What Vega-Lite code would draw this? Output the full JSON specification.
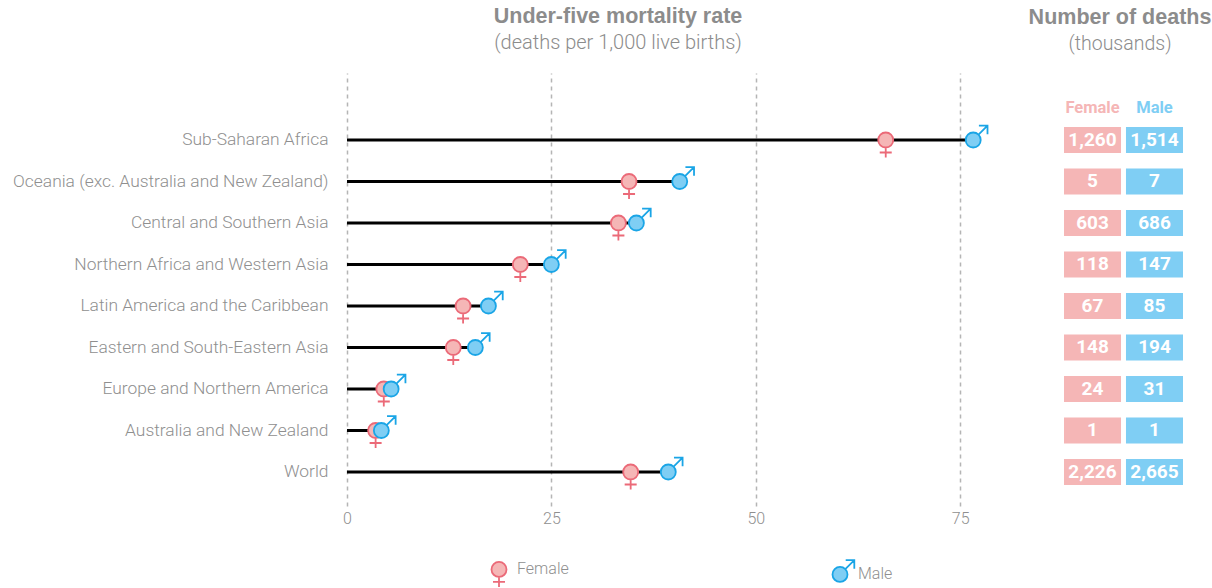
{
"$schema":"https://vega.github.io/schema/vega-lite/v6.json",
"padding":{"left":0,"top":5,"right":0,"bottom":0},
"background":"white",
"spacing":27,
"config":{"view":{"stroke":null},"font":"Roboto"},
"datasets":{"rows":[
{"region":"Sub-Saharan Africa","sex":"Female","rate":65.9,"deaths":1260},
{"region":"Sub-Saharan Africa","sex":"Male","rate":76.6,"deaths":1514},
{"region":"Oceania (exc. Australia and New Zealand)","sex":"Female","rate":34.5,"deaths":5},
{"region":"Oceania (exc. Australia and New Zealand)","sex":"Male","rate":40.7,"deaths":7},
{"region":"Central and Southern Asia","sex":"Female","rate":33.2,"deaths":603},
{"region":"Central and Southern Asia","sex":"Male","rate":35.4,"deaths":686},
{"region":"Northern Africa and Western Asia","sex":"Female","rate":21.2,"deaths":118},
{"region":"Northern Africa and Western Asia","sex":"Male","rate":25.0,"deaths":147},
{"region":"Latin America and the Caribbean","sex":"Female","rate":14.2,"deaths":67},
{"region":"Latin America and the Caribbean","sex":"Male","rate":17.3,"deaths":85},
{"region":"Eastern and South-Eastern Asia","sex":"Female","rate":13.0,"deaths":148},
{"region":"Eastern and South-Eastern Asia","sex":"Male","rate":15.7,"deaths":194},
{"region":"Europe and Northern America","sex":"Female","rate":4.5,"deaths":24},
{"region":"Europe and Northern America","sex":"Male","rate":5.4,"deaths":31},
{"region":"Australia and New Zealand","sex":"Female","rate":3.5,"deaths":1},
{"region":"Australia and New Zealand","sex":"Male","rate":4.2,"deaths":1},
{"region":"World","sex":"Female","rate":34.7,"deaths":2226},
{"region":"World","sex":"Male","rate":39.3,"deaths":2665}
]},
"hconcat":[
{"width":654,"height":433,
 "title":{"text":"Under-five mortality rate","subtitle":"(deaths per 1,000 live births)","anchor":"middle","dx":-56,"font":"Liberation Sans","fontSize":21.5,"fontWeight":"bold","color":"#8c8c8c","subtitleFont":"Roboto","subtitleFontSize":20,"subtitleFontWeight":300,"subtitleColor":"#8c8c8c","subtitlePadding":6,"offset":20},
 "data":{"name":"rows"},
 "layer":[
 {"transform":[{"filter":"datum.sex==='Male'"}],
  "mark":{"type":"rule","color":"#000000","strokeWidth":3},
  "encoding":{
   "y":{"field":"region","type":"nominal","sort":null},
   "x":{"field":"rate","type":"quantitative"},
   "x2":{"datum":0}}},
 {"mark":{"type":"point","filled":true,"opacity":1,"strokeWidth":1.8,"size":400},
  "encoding":{
   "x":{"field":"rate","type":"quantitative","scale":{"domain":[0,80],"nice":false},
    "axis":{"title":null,"values":[0,25,50,75],"domain":false,"ticks":false,"grid":true,"gridColor":"#b5b5b5","gridDash":[4,4],"gridWidth":1.5,"labelColor":"#8f8f8f","labelFontSize":16,"labelFontWeight":300,"labelPadding":4,"labelFlush":false}},
   "y":{"field":"region","type":"nominal","sort":null,
    "scale":{"type":"point","domain":[" ","Sub-Saharan Africa","Oceania (exc. Australia and New Zealand)","Central and Southern Asia","Northern Africa and Western Asia","Latin America and the Caribbean","Eastern and South-Eastern Asia","Europe and Northern America","Australia and New Zealand","World"],"padding":0.7169,"align":0.4285},
    "axis":{"title":null,"domain":false,"ticks":false,"grid":false,"labelColor":"#8f8f8f","labelFontSize":17.4,"labelFontWeight":300,"labelPadding":19,"labelLimit":345,"minExtent":347,"maxExtent":347}},
   "shape":{"field":"sex","type":"nominal",
    "scale":{"domain":["Female","Male"],"range":[
     "M0,-.75A.75,.75 0 1 1 0,.75A.75,.75 0 1 1 0,-.75ZM0,.8L0,1.75L0,.8ZM-.6,1.25L.6,1.25L-.6,1.25Z",
     "M0,-.75A.75,.75 0 1 1 0,.75A.75,.75 0 1 1 0,-.75ZM.53,-.53L1.43,-1.43L.53,-.53ZM.57,-1.43L1.43,-1.43L1.43,-.57L1.43,-1.43Z"]},
    "legend":{"title":null,"orient":"none","legendX":141,"legendY":485,"direction":"horizontal","columns":2,"columnPadding":259,"symbolSize":400,"symbolStrokeWidth":1.8,"labelColor":"#8f8f8f","labelFontSize":16,"labelFontWeight":300,"labelOffset":7}},
   "fill":{"field":"sex","type":"nominal","scale":{"domain":["Female","Male"],"range":["#F5B6B6","#7FCEF4"]}},
   "stroke":{"field":"sex","type":"nominal","scale":{"domain":["Female","Male"],"range":["#EB6A78","#1AA5E6"]}}
  }}
 ]},
{"width":119,"height":433,
 "title":{"text":"Number of deaths","subtitle":"(thousands)","anchor":"middle","dx":-3.5,"font":"Liberation Sans","fontSize":21.5,"fontWeight":"bold","color":"#8c8c8c","subtitleFont":"Roboto","subtitleFontSize":19.5,"subtitleFontWeight":300,"subtitleColor":"#8c8c8c","subtitlePadding":6,"offset":20},
 "data":{"name":"rows"},
 "encoding":{
  "y":{"field":"region","type":"nominal","sort":null,"scale":{"type":"point","domain":[" ","Sub-Saharan Africa","Oceania (exc. Australia and New Zealand)","Central and Southern Asia","Northern Africa and Western Asia","Latin America and the Caribbean","Eastern and South-Eastern Asia","Europe and Northern America","Australia and New Zealand","World"],"padding":0.7169,"align":0.4285},"axis":null},
  "x":{"field":"sex","type":"nominal","scale":{"domain":["Female","Male"],"paddingInner":0.08,"paddingOuter":0},
   "axis":{"orient":"top","title":null,"domain":false,"ticks":false,"labelAngle":0,"labelFontSize":16.5,"labelFontWeight":"bold","labelPadding":-42,"labelColor":{"condition":{"test":"datum.value==='Female'","value":"#F5B6B6"},"value":"#7FCEF4"}}}},
 "layer":[
 {"mark":{"type":"rect","height":26},
  "encoding":{"color":{"field":"sex","type":"nominal","legend":null,"scale":{"domain":["Female","Male"],"range":["#F5B6B6","#7FCEF4"]}}}},
 {"mark":{"type":"text","color":"#ffffff","fontSize":19,"fontWeight":"bold"},
  "encoding":{"text":{"field":"deaths","type":"quantitative","format":",d"}}}
 ]}
]
}
